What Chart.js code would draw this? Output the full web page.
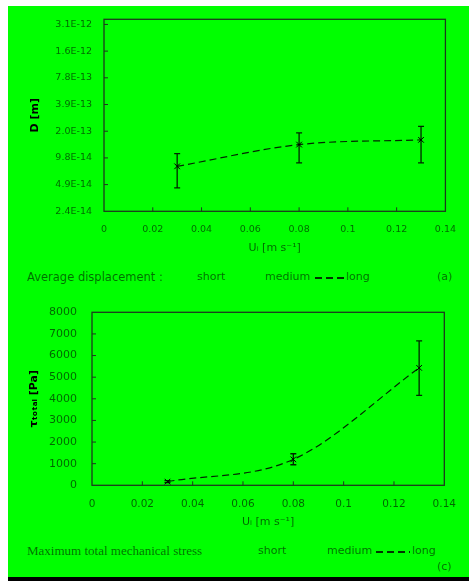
<!DOCTYPE html>
<html>
<head>
<meta charset="utf-8">
<script src="https://cdn.jsdelivr.net/npm/chart.js@4.4.1/dist/chart.umd.min.js"></script>
<style>
  html, body { margin: 0; padding: 0; background: #fff; width: 469px; height: 581px; overflow: hidden; }
  #bg { position: absolute; left: 8px; top: 6px; width: 461px; height: 571px; background: #00ff00; }
  #bar { position: absolute; left: 8px; top: 577px; width: 461px; height: 4px; background: #000; }
  canvas { position: absolute; left: 0; }
  .lg { position: absolute; font-family: "DejaVu Sans", sans-serif; font-size: 11px; color: rgba(0,0,0,0.58); white-space: nowrap; line-height: 14px; }
  .big { font-size: 11.5px; }
  .serif { font-family: "Liberation Serif", serif; font-size: 13px; }
  .dash { position: absolute; height: 2px; background: repeating-linear-gradient(to right, rgba(0,0,0,0.8) 0 7px, transparent 7px 11px); }
</style>
</head>
<body>
<div id="bg"></div>
<div id="bar"></div>
<canvas id="c1" width="469" height="262" style="top:0px"></canvas>
<canvas id="c2" width="469" height="250" style="top:290px"></canvas>

<div class="lg big" style="left:27px; top:270px;">Average displacement :</div>
<div class="lg" style="left:197px; top:270px;">short</div>
<div class="lg" style="left:265px; top:270px;">medium</div>
<div class="dash" style="left:315px; top:277px; width:30px;"></div>
<div class="lg" style="left:346px; top:270px;">long</div>
<div class="lg" style="left:437px; top:270px;">(a)</div>

<div class="lg serif" style="left:27px; top:544px;">Maximum total mechanical stress</div>
<div class="lg" style="left:258px; top:544px;">short</div>
<div class="lg" style="left:327px; top:544px;">medium</div>
<div class="dash" style="left:376px; top:551px; width:34px;"></div>
<div class="lg" style="left:412px; top:544px;">long</div>
<div class="lg" style="left:437px; top:560px;">(c)</div>

<script>
// ---- data ----
const uValues = [0.03, 0.08, 0.13];
const xTicks = [0, 0.02, 0.04, 0.06, 0.08, 0.1, 0.12, 0.14];
const xTickLabels = ['0', '0.02', '0.04', '0.06', '0.08', '0.1', '0.12', '0.14'];

const dispMean = [7.85e-14, 1.38e-13, 1.56e-13];
const dispLow  = [4.48e-14, 8.57e-14, 8.57e-14];
const dispHigh = [1.09e-13, 1.87e-13, 2.21e-13];
const dispTicks = [2.44140625e-14, 4.8828125e-14, 9.765625e-14, 1.953125e-13, 3.90625e-13, 7.8125e-13, 1.5625e-12, 3.125e-12];
const dispTickLabels = ['2.4E-14', '4.9E-14', '9.8E-14', '2.0E-13', '3.9E-13', '7.8E-13', '1.6E-12', '3.1E-12'];

const stressMean = [170, 1200, 5430];
const stressLow  = [120, 950, 4160];
const stressHigh = [220, 1460, 6680];
const stressTicks = [0, 1000, 2000, 3000, 4000, 5000, 6000, 7000, 8000];
const stressTickLabels = ['0', '1000', '2000', '3000', '4000', '5000', '6000', '7000', '8000'];

const textCol = 'rgba(0,0,0,0.6)';
const frameCol = '#1d3a1d';

const framePlugin = {
  id: 'frameTicks',
  afterDraw(chart) {
    const {ctx, chartArea: a, scales} = chart;
    ctx.save();
    ctx.strokeStyle = frameCol;
    ctx.lineWidth = 1.3;
    ctx.strokeRect(a.left, a.top, a.right - a.left, a.bottom - a.top);
    ctx.lineWidth = 1;
    ctx.beginPath();
    scales.x.ticks.forEach(t => {
      const px = scales.x.getPixelForValue(t.value);
      if (px > a.left + 1 && px < a.right - 1) { ctx.moveTo(px, a.bottom); ctx.lineTo(px, a.bottom - 4); }
    });
    scales.y.ticks.forEach(t => {
      const py = scales.y.getPixelForValue(t.value);
      if (py > a.top + 1 && py < a.bottom - 1) { ctx.moveTo(a.left, py); ctx.lineTo(a.left + 4, py); }
    });
    ctx.stroke();
    ctx.restore();
  }
};

const errPlugin = {
  id: 'errBars',
  afterDatasetsDraw(chart, args, opts) {
    const {ctx, scales} = chart;
    ctx.save();
    ctx.strokeStyle = 'rgba(0,0,0,0.85)';
    ctx.lineWidth = 1.3;
    ctx.beginPath();
    opts.x.forEach((u, i) => {
      const px = scales.x.getPixelForValue(u);
      const yl = scales.y.getPixelForValue(opts.low[i]);
      const yh = scales.y.getPixelForValue(opts.high[i]);
      ctx.moveTo(px, yl); ctx.lineTo(px, yh);
      ctx.moveTo(px - 3, yl); ctx.lineTo(px + 3, yl);
      ctx.moveTo(px - 3, yh); ctx.lineTo(px + 3, yh);
    });
    ctx.stroke();
    ctx.restore();
  }
};

function makeX(tickFont, tickPad, titlePadBottom, height) {
  return {
    type: 'linear', min: 0, max: 0.14,
    afterBuildTicks: s => { s.ticks = xTicks.map(v => ({value: v})); },
    afterFit: s => { s.height = height; },
    grid: { display: false, drawTicks: false },
    border: { display: false },
    ticks: { autoSkip: false, maxRotation: 0, padding: tickPad, color: textCol,
             font: { family: 'DejaVu Sans', size: tickFont },
             callback: (v, i) => xTickLabels[i] },
    title: { display: true, text: 'Uᵢ [m s⁻¹]', color: textCol,
             font: { family: 'DejaVu Sans', size: 11 }, padding: { top: 0, bottom: titlePadBottom } }
  };
}

const dispPoints = uValues.map((u, i) => ({x: u, y: dispMean[i]}));
const stressPoints = uValues.map((u, i) => ({x: u, y: stressMean[i]}));

const lineDs = (label, pts) => ({
  label, data: pts, borderColor: 'rgba(0,0,0,0.85)', borderWidth: 1.2, borderDash: [7, 4],
  tension: 0.4, cubicInterpolationMode: 'monotone', fill: false,
  pointStyle: 'crossRot', pointRadius: 4, pointBorderColor: '#000', pointBorderWidth: 1, pointBackgroundColor: 'transparent'
});

new Chart(document.getElementById('c1'), {
  type: 'line',
  data: { datasets: [lineDs('long', dispPoints)] },
  options: {
    responsive: false, animation: false, devicePixelRatio: 1,
    layout: { padding: { left: 0, right: 19, top: 19.3, bottom: 0 } },
    plugins: { legend: { display: false }, tooltip: { enabled: false },
               errBars: { x: uValues, low: dispLow, high: dispHigh } },
    scales: {
      x: makeX(9.5, 13, 7.4, 50.7),
      y: {
        type: 'logarithmic', min: 2.44140625e-14, max: 3.57e-12,
        afterBuildTicks: s => { s.ticks = dispTicks.map(v => ({value: v})); },
        afterFit: s => { s.width = 104; },
        grid: { display: false, drawTicks: false },
        border: { display: false },
        ticks: { autoSkip: false, padding: 12, color: textCol,
                 font: { family: 'DejaVu Sans', size: 9.5 },
                 callback: (v, i) => dispTickLabels[i] },
        title: { display: true, text: 'D [m]', color: '#000',
                 font: { family: 'DejaVu Sans', size: 11, weight: 'bold' }, padding: { top: 28.4, bottom: 0 } }
      }
    }
  },
  plugins: [framePlugin, errPlugin]
});

new Chart(document.getElementById('c2'), {
  type: 'line',
  data: { datasets: [lineDs('long', stressPoints)] },
  options: {
    responsive: false, animation: false, devicePixelRatio: 1,
    layout: { padding: { left: 0, right: 19, top: 22.3, bottom: 0 } },
    plugins: { legend: { display: false }, tooltip: { enabled: false },
               errBars: { x: uValues, low: stressLow, high: stressHigh } },
    scales: {
      x: makeX(10.5, 13, 11.4, 54.7),
      y: {
        type: 'linear', min: 0, max: 8000,
        afterBuildTicks: s => { s.ticks = stressTicks.map(v => ({value: v})); },
        afterFit: s => { s.width = 92; },
        grid: { display: false, drawTicks: false },
        border: { display: false },
        ticks: { autoSkip: false, padding: 15, color: textCol,
                 font: { family: 'DejaVu Sans', size: 11 },
                 callback: (v, i) => stressTickLabels[i] },
        title: { display: true, text: 'τₜₒₜₐₗ [Pa]', color: '#000',
                 font: { family: 'DejaVu Sans', size: 11, weight: 'bold' }, padding: { top: 27.4, bottom: 0 } }
      }
    }
  },
  plugins: [framePlugin, errPlugin]
});
</script>
</body>
</html>
